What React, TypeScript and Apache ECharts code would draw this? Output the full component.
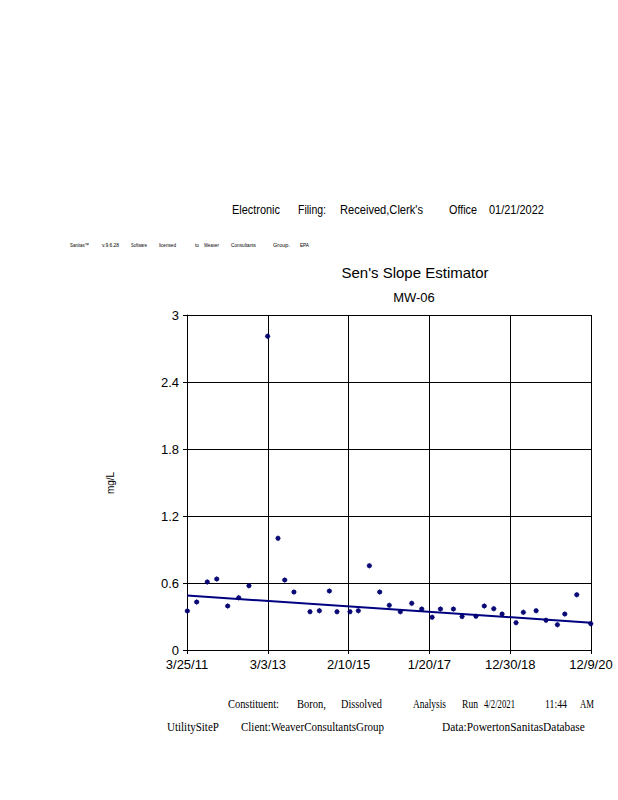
import React, { useEffect, useRef } from "react";
import * as echarts from "echarts";

// Sample dates as days since 3/25/2011 (axis start), boron values in mg/L
const sampleDays = [3, 85, 178, 261, 357, 454, 544, 708, 799, 858, 939, 1080, 1162, 1250, 1317, 1431, 1504, 1601, 1692, 1776, 1873, 1973, 2061, 2152, 2225, 2339, 2415, 2537, 2610, 2693, 2766, 2889, 2953, 3065, 3152, 3252, 3317, 3422, 3545];
const boronValues = [0.35, 0.43, 0.61, 0.636, 0.394, 0.468, 0.576, 2.81, 1.0, 0.627, 0.519, 0.343, 0.352, 0.528, 0.343, 0.343, 0.352, 0.755, 0.519, 0.4, 0.343, 0.418, 0.367, 0.293, 0.367, 0.367, 0.299, 0.302, 0.394, 0.37, 0.322, 0.245, 0.337, 0.352, 0.266, 0.227, 0.322, 0.495, 0.236];
const trendDays = [0, 3547];
const trendValues = [0.487, 0.245];
const xTickLabels = ["3/25/11", "3/3/13", "2/10/15", "1/20/17", "12/30/18", "12/9/20"];
const axisSpanDays = 3547;

// [word, left x, width] as laid out on the page
const headerWords: [string, number, number][] = [["Electronic", 232, 48], ["Filing:", 298, 28], ["Received,Clerk's", 340, 83], ["Office", 449, 28], ["01/21/2022", 489, 55]];
const licenseWords: [string, number, number][] = [["Sanitas\u2122", 70, 19], ["v.9.6.28", 102, 17], ["Software", 131, 16], ["licensed", 159, 17], ["to", 195, 4], ["Weaver", 204, 15], ["Consultants", 231, 25], ["Group.", 273, 17], ["EPA", 300, 9]];
const footer1: [string, number, number][] = [["Constituent:", 228, 51], ["Boron,", 297, 29], ["Dissolved", 341, 41], ["Analysis", 413, 33], ["Run", 462, 16], ["4/2/2021", 484, 31], ["11:44", 545, 22], ["AM", 580, 14]];
const footer2: [string, number, number][] = [["UtilitySiteP", 167, 52], ["Client:WeaverConsultantsGroup", 241, 143], ["Data:PowertonSanitasDatabase", 442, 143]];

const measureCtx = document.createElement("canvas").getContext("2d");
function measure(text: string, font: string, size: number) {
  if (!measureCtx) return text.length * size * 0.5;
  measureCtx.font = `${size}px ${font}`;
  return measureCtx.measureText(text).width || text.length * size * 0.5;
}

export default function App() {
  const ref = useRef<HTMLDivElement>(null);
  useEffect(() => {
    const chart = echarts.init(ref.current!, null, { renderer: "svg" });
    const interval = axisSpanDays / 5;
    const words = (arr: [string, number, number][], y: number, font: string, size: number) =>
      arr.map(([t, x, w]) => ({
        type: "text",
        x,
        y,
        scaleX: w / measure(t, font, size),
        style: { text: t, fontFamily: font, fontSize: size, fill: "#000", textVerticalAlign: "middle" },
      }));
    const sans = "'Liberation Sans', Arial, sans-serif";
    const serif = "'Liberation Serif', 'Times New Roman', serif";
    chart.setOption({
      animation: false,
      backgroundColor: "#fff",
      grid: { left: 187, right: 27, top: 315, bottom: 150, containLabel: false },
      xAxis: {
        type: "value",
        min: 0,
        max: axisSpanDays,
        interval,
        axisLine: { show: true, lineStyle: { color: "#000", width: 1 } },
        axisTick: { show: true, length: 4, lineStyle: { color: "#000" } },
        splitLine: { show: true, lineStyle: { color: "#000", width: 1 } },
        axisLabel: {
          color: "#000",
          fontFamily: sans,
          fontSize: 13,
          margin: 8,
          formatter: (v: number) => xTickLabels[Math.round(v / interval)] ?? "",
        },
      },
      yAxis: {
        type: "value",
        min: 0,
        max: 3,
        interval: 0.6,
        axisLine: { show: true, lineStyle: { color: "#000", width: 1 } },
        axisTick: { show: true, length: 4, lineStyle: { color: "#000" } },
        splitLine: { show: true, lineStyle: { color: "#000", width: 1 } },
        axisLabel: { color: "#000", fontFamily: sans, fontSize: 13, margin: 8 },
      },
      series: [
        {
          type: "line",
          data: trendDays.map((d, i) => [d, trendValues[i]]),
          showSymbol: false,
          lineStyle: { color: "#000080", width: 2 },
          z: 3,
        },
        {
          type: "scatter",
          data: sampleDays.map((d, i) => [d, boronValues[i]]),
          symbol: "diamond",
          symbolSize: 6,
          itemStyle: { color: "#000070" },
          z: 4,
        },
        {
          type: "scatter",
          data: sampleDays.map((d, i) => [d, boronValues[i]]),
          symbol: "rect",
          symbolSize: 4,
          itemStyle: { color: "#000070" },
          z: 4,
        },
      ],
      graphic: [
        ...words(headerWords, 210, sans, 13),
        ...words(licenseWords, 245, sans, 6),
        {
          type: "text",
          x: 415,
          y: 272,
          style: { text: "Sen's Slope Estimator", fontFamily: sans, fontSize: 15, fill: "#000", textAlign: "center", textVerticalAlign: "middle" },
        },
        {
          type: "text",
          x: 414,
          y: 297,
          style: { text: "MW-06", fontFamily: sans, fontSize: 13, fill: "#000", textAlign: "center", textVerticalAlign: "middle" },
        },
        {
          type: "text",
          x: 110,
          y: 483,
          rotation: Math.PI / 2,
          style: { text: "mg/L", fontFamily: sans, fontSize: 10, fill: "#000", textAlign: "center", textVerticalAlign: "middle" },
        },
        ...words(footer1, 704, serif, 12),
        ...words(footer2, 727, serif, 12),
      ],
    });
    return () => chart.dispose();
  }, []);
  return <div ref={ref} style={{ position: "absolute", left: 0, top: 0, width: 618, height: 800 }} />;
}
